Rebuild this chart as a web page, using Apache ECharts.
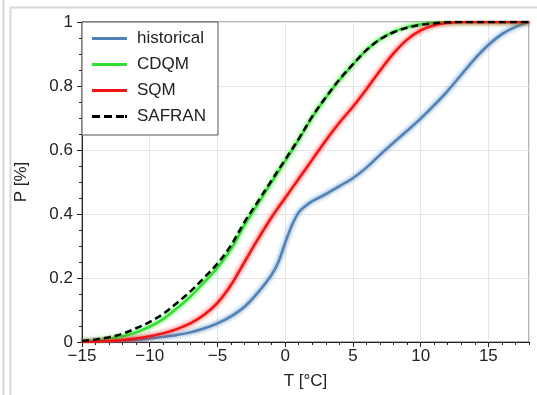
<!DOCTYPE html>
<html>
<head>
<meta charset="utf-8">
<script src="https://cdn.jsdelivr.net/npm/echarts@6/dist/echarts.min.js"></script>
<style>
  html, body { margin: 0; padding: 0; background: #fff; }
  #chart { width: 537px; height: 395px; }
</style>
</head>
<body>
<div id="chart"></div>
<script>
// Temperature grid (°C) shared by the bias-corrected and reference curves
const temps = [-15,-14,-13,-12,-11,-10,-9,-8,-7,-6,-5,-4,-3,-2,-1,0,1,2,3,4,5,6,7,8,9,10,11,12,13,14,15,16,17,18];

// Cumulative probability curves
const probCdqm   = [0.002,0.005,0.010,0.018,0.030,0.048,0.072,0.105,0.142,0.186,0.232,0.290,0.365,0.432,0.500,0.565,0.632,0.702,0.763,0.818,0.867,0.912,0.946,0.969,0.984,0.993,0.998,1,1,1,1,1,1,1];
const probSqm    = [0,0.001,0.003,0.006,0.011,0.018,0.027,0.040,0.058,0.084,0.122,0.178,0.250,0.322,0.390,0.450,0.510,0.570,0.630,0.685,0.735,0.790,0.848,0.902,0.945,0.974,0.990,0.997,1,1,1,1,1,1];
const probSafran = [0.003,0.008,0.015,0.026,0.043,0.063,0.088,0.122,0.158,0.200,0.245,0.302,0.375,0.440,0.505,0.570,0.635,0.705,0.765,0.820,0.868,0.912,0.946,0.968,0.982,0.991,0.996,0.999,1,1,1,1,1,1];

// The historical run has a sharper knee near 0 °C, so it is sampled more finely there
const tempsHist = [-15,-14,-13,-12,-11,-10,-9,-8,-7,-6,-5,-4,-3,-2,-1,-0.5,0,0.5,1,1.5,2,3,4,5,6,7,8,9,10,11,12,13,14,15,16,17,18];
const probHist  = [0,0.001,0.002,0.004,0.007,0.011,0.016,0.022,0.030,0.042,0.058,0.080,0.110,0.155,0.210,0.250,0.310,0.365,0.405,0.425,0.440,0.462,0.487,0.512,0.545,0.585,0.623,0.660,0.698,0.740,0.785,0.835,0.885,0.928,0.962,0.985,1];

const seriesNames = ['historical', 'CDQM', 'SQM', 'SAFRAN'];

const xTicks = { min: -15, max: 18, major: 5, minor: 1 };
const yTicks = { min: 0, max: 1, major: 0.2 };

const pairs = (xs, ys) => xs.map((x, i) => [x, ys[i]]);
const FONT = "'Liberation Sans', Arial, sans-serif";

// legend keys: a solid bar, or a bar broken into dashes for the reference data
const ICON_SOLID = 'path://M0,0h35v3h-35z';
const ICON_DASHED = 'path://M0,0h8v3h-8z M12,0h8v3h-8z M24,0h8v3h-8z M33,0h2v3h-2z';

function curve(name, xs, ys, color, dashed) {
  return {
    name: name,
    type: 'line',
    xAxisIndex: 0,
    yAxisIndex: 0,
    data: pairs(xs, ys),
    symbol: 'none',
    smooth: 0.35,
    z: dashed ? 5 : 3,
    lineStyle: {
      color: color,
      width: 2.5,
      type: dashed ? [7, 4] : 'solid',
      shadowColor: dashed ? 'transparent' : color,
      shadowBlur: dashed ? 0 : 4
    },
    itemStyle: { color: color }
  };
}

const chart = echarts.init(document.getElementById('chart'), null, { renderer: 'canvas' });

chart.setOption({
  animation: false,
  backgroundColor: '#fff',
  textStyle: { fontFamily: FONT },
  grid: {
    left: 82, right: 8, top: 22, bottom: 53,
    show: true, borderColor: '#666', borderWidth: 1, backgroundColor: 'transparent'
  },
  graphic: [
    { type: 'line', shape: { x1: 3.5, y1: 0, x2: 3.5, y2: 395 }, style: { stroke: '#d8d8d8', lineWidth: 2 }, silent: true },
    { type: 'polyline', shape: { points: [[10.5, 395], [10.5, 7.5], [537, 7.5]] }, style: { stroke: '#d8d8d8', lineWidth: 2, fill: null }, silent: true }
  ],
  legend: {
    orient: 'vertical',
    left: 82, top: 22,
    padding: [8, 12, 10, 10],
    itemWidth: 35, itemHeight: 3, itemGap: 9,
    backgroundColor: '#fff',
    borderColor: '#555', borderWidth: 1,
    itemStyle: { shadowBlur: 0 },
    textStyle: { fontFamily: FONT, fontSize: 17, color: '#222', padding: [0, 0, 0, 5] },
    data: seriesNames.map(n => ({ name: n, icon: n === 'SAFRAN' ? ICON_DASHED : ICON_SOLID }))
  },
  xAxis: [
    {
      type: 'value',
      min: xTicks.min, max: xTicks.max, interval: xTicks.major,
      name: 'T [°C]', nameLocation: 'middle', nameGap: 31,
      nameTextStyle: { fontFamily: FONT, fontSize: 17, color: '#222' },
      axisLine: { show: true, onZero: false, lineStyle: { color: '#222', width: 1 } },
      axisTick: { show: true, inside: false, length: 5, lineStyle: { color: '#222' } },
      axisLabel: {
        fontFamily: FONT, fontSize: 17, color: '#222', margin: 6,
        showMaxLabel: false,
        formatter: v => String(v).replace('-', '\u2212')
      },
      splitLine: { show: true, lineStyle: { color: '#e6e6e6', width: 1 } }
    },
    {
      // unit ticks along the bottom edge
      type: 'value', position: 'bottom',
      min: xTicks.min, max: xTicks.max, interval: xTicks.minor,
      axisLine: { show: false },
      axisTick: { show: true, inside: false, length: 3, lineStyle: { color: '#222' } },
      axisLabel: { show: false },
      splitLine: { show: false }
    }
  ],
  yAxis: {
    type: 'value',
    min: yTicks.min, max: yTicks.max, interval: yTicks.major,
    name: 'P [%]', nameLocation: 'middle', nameGap: 52, nameRotate: 90,
    nameTextStyle: { fontFamily: FONT, fontSize: 17, color: '#222' },
    axisLine: { show: true, onZero: false, lineStyle: { color: '#222', width: 1 } },
    axisTick: { show: true, inside: false, length: 5, lineStyle: { color: '#222' } },
    minorTick: { show: true, splitNumber: 4, length: 3, lineStyle: { color: '#222' } },
    axisLabel: { fontFamily: FONT, fontSize: 17, color: '#222', margin: 9 },
    splitLine: { show: true, lineStyle: { color: '#e6e6e6', width: 1 } }
  },
  series: [
    curve('historical', tempsHist, probHist, '#4f83b8', false),
    curve('CDQM', temps, probCdqm, '#2ee02e', false),
    curve('SQM', temps, probSqm, '#f21414', false),
    curve('SAFRAN', temps, probSafran, '#000000', true)
  ]
});
</script>
</body>
</html>
